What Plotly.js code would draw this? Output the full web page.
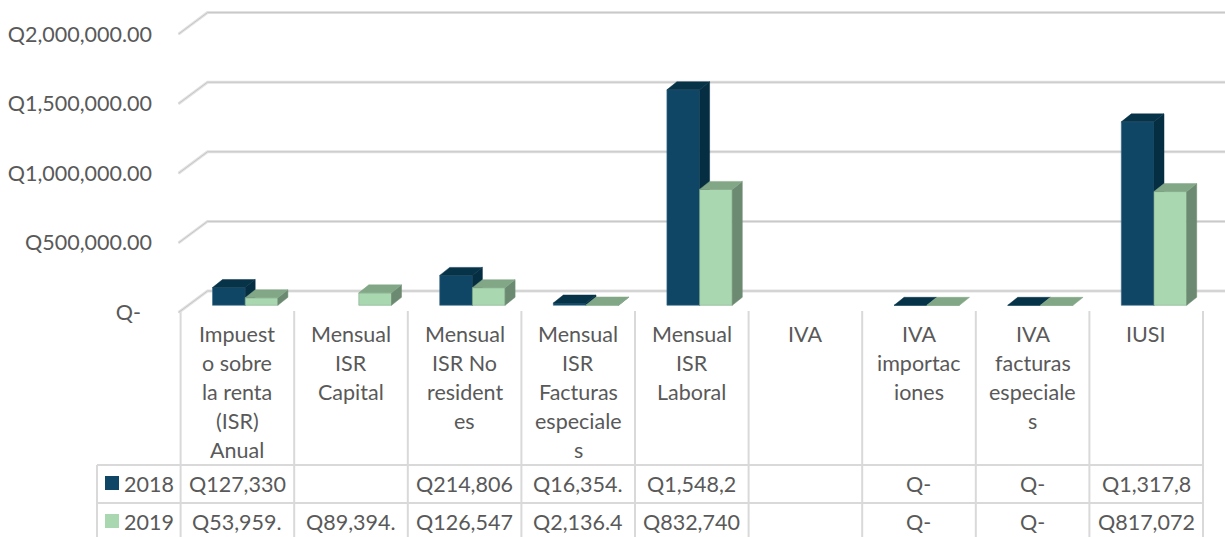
<!DOCTYPE html>
<html>
<head>
<meta charset="utf-8">
<script src="https://cdn.plot.ly/plotly-3.0.1.min.js"></script>
<style>html,body{margin:0;padding:0;background:#fff;overflow:hidden}#chart{width:1225px;height:537px}</style>
</head>
<body>
<div id="chart"></div>
<script>
// ---- data ----
const categoryLines = [
  ["Impuest","o sobre","la renta","(ISR)","Anual"],
  ["Mensual","ISR","Capital"],
  ["Mensual","ISR No","resident","es"],
  ["Mensual","ISR","Facturas","especiale","s"],
  ["Mensual","ISR","Laboral"],
  ["IVA"],
  ["IVA","importac","iones"],
  ["IVA","facturas","especiale","s"],
  ["IUSI"]
];
const values2018 = [127330, null, 214806, 16354, 1548200, null, 0, 0, 1317800];
const values2019 = [53959, 89394, 126547, 2136, 832740, null, 0, 0, 817072];
const table2018 = ["Q127,330","","Q214,806","Q16,354.","Q1,548,2","","Q-","Q-","Q1,317,8"];
const table2019 = ["Q53,959.","Q89,394.","Q126,547","Q2,136.4","Q832,740","","Q-","Q-","Q817,072"];
const axisValues = [0, 500000, 1000000, 1500000, 2000000];
const axisLabels = ["Q-\u00a0\u00a0", "Q500,000.00", "Q1,000,000.00", "Q1,500,000.00", "Q2,000,000.00"];

// ---- layout constants ----
const W = 1225, H = 537;
const pxPerCat = 113.6, firstCatPx = 245.2;
const qPerPx = 500000 / 69.6, basePx = 305.3;
const xRange = [(0 - firstCatPx) / pxPerCat, (W - firstCatPx) / pxPerCat];
const yRange = [(basePx - H) * qPerPx, basePx * qPerPx];
const barW = 32.7 / pxPerCat;
const depthX = 10 / pxPerCat, depthY = 8 * qPerPx;
const floorBackY = 14.3 * qPerPx, floorFrontY = -7.2 * qPerPx;
const floorBackX = (207.5 - firstCatPx) / pxPerCat, floorFrontX = (178.5 - firstCatPx) / pxPerCat;
const textColor = "#595959", tableLine = "#d9d9d9";
const fontFamily = "Lato, 'Open Sans', sans-serif";
const fontSize = 21.5;

const xIdx = categoryLines.map((_, i) => i);

function faces(vals, off) {
  const side = {x: [], y: []}, top = {x: [], y: []};
  vals.forEach((v, k) => {
    if (v === null) return;
    const x0 = k + off, x1 = x0 + barW;
    if (v > 0) {
      side.x.push(x1, x1, x1 + depthX, x1 + depthX, x1, null);
      side.y.push(0, v, v + depthY, depthY, 0, null);
    }
    top.x.push(x0, x1, x1 + depthX, x0 + depthX, x0, null);
    top.y.push(v, v, v + depthY, v + depthY, v, null);
  });
  return {side, top};
}
function series(name, vals, off, cFront, cEdge, cSide, cTop, xa, ya) {
  const f = faces(vals, off);
  const poly = (d, c) => ({type: "scatter", mode: "lines", x: d.x, y: d.y, xaxis: xa, yaxis: ya,
    fill: "toself", fillcolor: c, line: {color: c, width: 0.5}, hoverinfo: "skip", showlegend: false, name: name});
  return [
    {type: "bar", name: name, x: xIdx, y: vals, width: barW, offset: off, xaxis: xa, yaxis: ya,
     marker: {color: cFront, line: {color: cEdge, width: 0.6}}, showlegend: false, hoverinfo: "skip"},
    poly(f.side, cSide), poly(f.top, cTop)
  ];
}
const traces = [
  ...series("2018", values2018, -barW, "#0f4666", "#3f6e86", "#052e42", "#073349", "x", "y"),
  ...series("2019", values2019, 0, "#a9d7b0", "#7fa88a", "#6c8a71", "#82a787", "x2", "y2")
];

// ---- shapes ----
const shapes = [];
axisValues.forEach(v => {
  const path = `M${floorFrontX},${v + floorFrontY} L${floorBackX},${v + floorBackY} L${xRange[1]},${v + floorBackY}`;
  shapes.push({type: "path", path, xref: "x", yref: "y", layer: "below", line: {color: "#e2e2e2", width: 3}});
  shapes.push({type: "path", path, xref: "x", yref: "y", layer: "below", line: {color: "#c6c6c6", width: 1}});
});
function pxLine(x0, y0, x1, y1) {
  shapes.push({type: "line", xref: "paper", yref: "paper", layer: "below",
    x0: x0 / W, x1: x1 / W, y0: 1 - y0 / H, y1: 1 - y1 / H, line: {color: tableLine, width: 2}});
}
const cellX = i => 180.6 + i * pxPerCat;
for (let i = 0; i <= 9; i++) pxLine(cellX(i), 311, cellX(i), H);
pxLine(97, 465, cellX(9), 465);
pxLine(97, 503, cellX(9), 503);
pxLine(97, 465, 97, H);
[[476, "#0f4666"], [514, "#a9d7b0"]].forEach(([y, c]) => shapes.push({
  type: "rect", xref: "paper", yref: "paper", layer: "below",
  x0: 105 / W, x1: 119 / W, y0: 1 - y / H, y1: 1 - (y + 14) / H, fillcolor: c, line: {width: 0}}));

// ---- text ----
const annotations = [];
function pxText(text, x, y, anchor) {
  annotations.push({text, xref: "paper", yref: "paper", x: x / W, y: 1 - y / H, showarrow: false,
    xanchor: anchor || "center", yanchor: "middle", borderpad: 0,
    font: {family: fontFamily, size: fontSize, color: textColor}});
}
categoryLines.forEach((lines, i) => {
  const cx = cellX(i) + pxPerCat / 2;
  lines.forEach((t, j) => pxText(t, cx, 333.5 + j * 29.2));
  if (table2018[i]) pxText(table2018[i], cx, 484);
  if (table2019[i]) pxText(table2019[i], cx, 521.5);
});
pxText("2018", 148.5, 483.5);
pxText("2019", 148.5, 521.5);

const layout = {
  width: W, height: H, margin: {l: 0, r: 0, t: 0, b: 0}, paper_bgcolor: "#fff", plot_bgcolor: "rgba(0,0,0,0)",
  hovermode: false, showlegend: false, shapes, annotations,
  xaxis: {type: "linear", range: xRange, visible: false, fixedrange: true},
  xaxis2: {type: "linear", range: xRange, visible: false, overlaying: "x", fixedrange: true},
  yaxis: {type: "linear", range: yRange, anchor: "free", position: 152 / W, side: "left",
    showgrid: false, zeroline: false, showline: false, ticks: "", fixedrange: true,
    tickmode: "array", tickvals: axisValues.map(v => v + floorFrontY), ticktext: axisLabels,
    tickfont: {family: fontFamily, size: fontSize, color: textColor}, automargin: false},
  yaxis2: {type: "linear", range: yRange, visible: false, overlaying: "y", fixedrange: true}
};
Plotly.newPlot("chart", traces, layout, {staticPlot: true, displayModeBar: false});
</script>
</body>
</html>
